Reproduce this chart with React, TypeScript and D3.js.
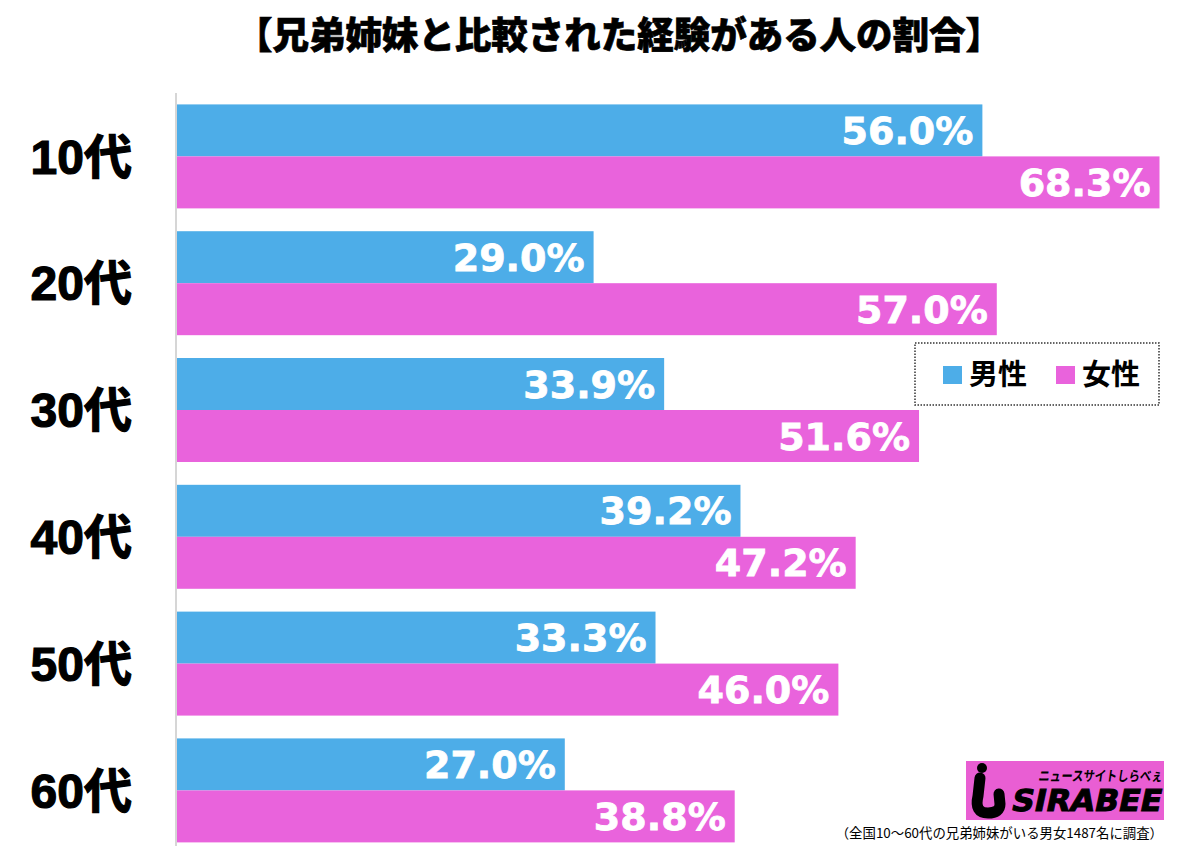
import React from "react";
import * as d3 from "d3";

const categories = ["10代", "20代", "30代", "40代", "50代", "60代"];
const seriesNames = ["男性", "女性"];
const maleValues = [56.0, 29.0, 33.9, 39.2, 33.3, 27.0];
const femaleValues = [68.3, 57.0, 51.6, 47.2, 46.0, 38.8];
const title = "【兄弟姉妹と比較された経験がある人の割合】";
const footnote = "（全国10〜60代の兄弟姉妹がいる男女1487名に調査）";

const COLORS = ["#4DADE8", "#E963DC"];

export default function App() {
  const W = 1200;
  const H = 860;
  const x0 = 176;
  const x = d3.scaleLinear().domain([0, 68.3]).range([x0, 1159.5]);
  const y = d3
    .scaleBand<string>()
    .domain(categories)
    .range([93, 93 + 6 * 126.8])
    .paddingInner(0.18)
    .paddingOuter(0.09);
  const ys = d3.scaleBand<string>().domain(seriesNames).range([0, y.bandwidth()]);
  const series = [maleValues, femaleValues];

  return (
    <svg
      width={W}
      height={H}
      style={{ position: "absolute", left: 0, top: 0, background: "#fff" }}
    >
      <rect x={0} y={0} width={W} height={H} fill="#fff" />
      <g transform="translate(619,49) scale(1,1.12)">
        <text
          x={0}
          y={0}
          textAnchor="middle"
          fontFamily="'Noto Sans CJK JP', sans-serif"
          fontWeight={900}
          fontSize={33}
          fill="#000"
          stroke="#000"
          strokeWidth={0.6}
          textLength={766}
          lengthAdjust="spacingAndGlyphs"
        >
          {title}
        </text>
      </g>

      {categories.map((c, i) => (
        <g key={c}>
          {series.map((vals, si) => {
            const yy = (y(c) as number) + (ys(seriesNames[si]) as number);
            const h = ys.bandwidth();
            return (
              <g key={si}>
                <rect
                  x={x(0)}
                  y={yy}
                  width={x(vals[i]) - x(0)}
                  height={h}
                  fill={COLORS[si]}
                />
                <text
                  x={x(vals[i]) - 9}
                  y={yy + h / 2}
                  dy="0.36em"
                  textAnchor="end"
                  fontFamily="'DejaVu Sans', sans-serif"
                  fontWeight="bold"
                  fontSize={38}
                  fill="#fff"
                  stroke="#fff"
                  strokeWidth={0.8}
                >
                  {vals[i].toFixed(1)}%
                </text>
              </g>
            );
          })}
          <text
            x={132}
            y={(y(c) as number) + y.bandwidth() / 2}
            dy="0.36em"
            textAnchor="end"
            fontFamily="'Liberation Sans', 'Noto Sans CJK JP', sans-serif"
            fontWeight="bold"
            fontSize={48}
            fill="#000"
            stroke="#000"
            strokeWidth={1.2}
          >
            {c}
          </text>
        </g>
      ))}

      <line x1={x0} x2={x0} y1={93} y2={846} stroke="#d6d6d6" strokeWidth={2} />

      {/* legend */}
      <rect
        x={915}
        y={343}
        width={244}
        height={62}
        fill="#fff"
        stroke="#333"
        strokeWidth={1.5}
        strokeDasharray="1.5,1.5"
      />
      {seriesNames.map((s, i) => (
        <g key={s} transform={`translate(${943 + i * 113},0)`}>
          <rect x={0} y={366} width={19} height={18} fill={COLORS[i]} />
          <text
            x={26}
            y={375}
            dy="0.36em"
            fontFamily="'Noto Sans CJK JP', sans-serif"
            fontWeight="bold"
            fontSize={29}
            fill="#000"
          >
            {s}
          </text>
        </g>
      ))}

      {/* logo */}
      <rect x={966} y={761} width={198} height={59} fill="#E95ED3" />
      <circle cx={982} cy={768} r={5} fill="#000" />
      <path
        d="M 980 778 L 978 796 Q 974 813 988 813 Q 1000 813 1000 804 L 999 794"
        fill="none"
        stroke="#000"
        strokeWidth={11}
        strokeLinecap="round"
        strokeLinejoin="round"
      />
      <g transform="translate(1038,781) skewX(-8)">
        <text
          x={0}
          y={0}
          fontFamily="'Noto Sans CJK JP', sans-serif"
          fontWeight="bold"
          fontSize={14}
          fill="#000"
          textLength={124}
          lengthAdjust="spacingAndGlyphs"
        >
          ニュースサイトしらべぇ
        </text>
      </g>
      <g transform="translate(1010,811) skewX(-12)">
        <text
          x={0}
          y={0}
          fontFamily="'DejaVu Sans', sans-serif"
          fontWeight="bold"
          fontSize={30}
          fill="#000"
          stroke="#000"
          strokeWidth={1}
          textLength={150}
          lengthAdjust="spacingAndGlyphs"
        >
          SIRABEE
        </text>
      </g>

      <text
        x={1163}
        y={838}
        textAnchor="end"
        fontFamily="'Noto Sans CJK JP', sans-serif"
        fontSize={13.4}
        fill="#000"
      >
        {footnote}
      </text>
    </svg>
  );
}
